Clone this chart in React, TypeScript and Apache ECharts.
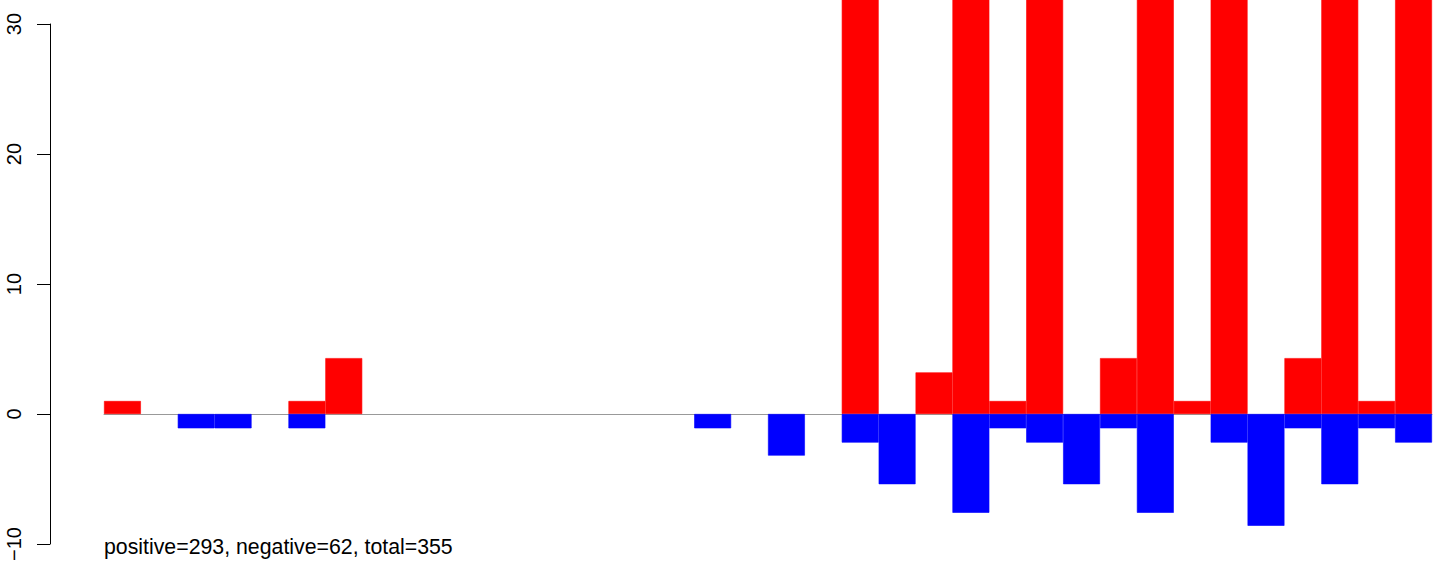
import React, { useEffect, useRef } from "react";
import * as echarts from "echarts";

const categories: string[] = Array.from({ length: 36 }, (_, i) => String(i + 1));

// positive counts per bin (null = empty); tall bins run past the top of the plot
const positiveValues: (number | null)[] = [
  1.0, null, null, null, null, 1.0, 4.3, null, null, null,
  null, null, null, null, null, null, null, null, null, null,
  40, null, 3.2, 36, 1.0, 41, null, 4.3, 38, 1.0,
  39, null, 4.3, 37, 1.0, 41,
];

// negative counts per bin
const negativeValues: (number | null)[] = [
  null, null, -1.1, -1.1, null, -1.1, null, null, null, null,
  null, null, null, null, null, null, -1.1, null, -3.2, null,
  -2.2, -5.4, null, -7.6, -1.1, -2.2, -5.4, -1.1, -7.6, null,
  -2.2, -8.6, -1.1, -5.4, -1.1, -2.2,
];

const yTicks = { min: -10, max: 30, interval: 10 };
const summaryText = "positive=293, negative=62, total=355";

const FONT = "'Liberation Sans', Arial, Helvetica, sans-serif";

export default function App() {
  const ref = useRef<HTMLDivElement>(null);

  useEffect(() => {
    if (!ref.current) return;
    const chart = echarts.init(ref.current, undefined, { renderer: "svg" });
    const minus = (v: number) => (v < 0 ? "\u2212" + Math.abs(v) : String(v));
    chart.setOption({
      animation: false,
      backgroundColor: "#ffffff",
      grid: [
        { left: 104, right: 12, top: 24, bottom: 24 },
        { left: 50, width: 1, top: 24, bottom: 24 },
      ],
      xAxis: [
        {
          type: "category",
          gridIndex: 0,
          data: categories,
          boundaryGap: true,
          axisLine: { show: true, onZero: true, lineStyle: { color: "#999999", width: 1 } },
          axisTick: { show: false },
          axisLabel: { show: false },
          splitLine: { show: false },
        },
        {
          type: "value",
          gridIndex: 1,
          show: false,
        },
      ],
      yAxis: [
        {
          type: "value",
          gridIndex: 0,
          min: yTicks.min,
          max: yTicks.max,
          interval: yTicks.interval,
          show: false,
          splitLine: { show: false },
        },
        {
          type: "value",
          gridIndex: 1,
          position: "left",
          min: yTicks.min,
          max: yTicks.max,
          interval: yTicks.interval,
          axisLine: { show: true, lineStyle: { color: "#000000", width: 1 } },
          axisTick: { show: true, length: 13, lineStyle: { color: "#000000", width: 1 } },
          axisLabel: {
            show: true,
            rotate: 90,
            margin: 26,
            color: "#000000",
            fontSize: 20,
            fontFamily: FONT,
            formatter: (v: number) => minus(v),
          },
          splitLine: { show: false },
        },
      ],
      graphic: [
        {
          type: "text",
          left: 104,
          top: 536,
          style: {
            text: summaryText,
            fill: "#000000",
            fontSize: 21.3,
            fontFamily: FONT,
          },
        },
      ],
      series: [
        {
          name: "positive",
          type: "bar",
          xAxisIndex: 0,
          yAxisIndex: 0,
          data: positiveValues,
          barWidth: "100%",
          barGap: "-100%",
          clip: false,
          itemStyle: { color: "#ff0000", borderColor: "#ff0000", borderWidth: 0.6 },
        },
        {
          name: "negative",
          type: "bar",
          xAxisIndex: 0,
          yAxisIndex: 0,
          data: negativeValues,
          barWidth: "100%",
          barGap: "-100%",
          clip: false,
          itemStyle: { color: "#0000ff", borderColor: "#0000ff", borderWidth: 0.6 },
        },
      ],
    });
    return () => chart.dispose();
  }, []);

  return (
    <div
      ref={ref}
      style={{ position: "fixed", left: 0, top: 0, width: 1444, height: 568 }}
    />
  );
}
